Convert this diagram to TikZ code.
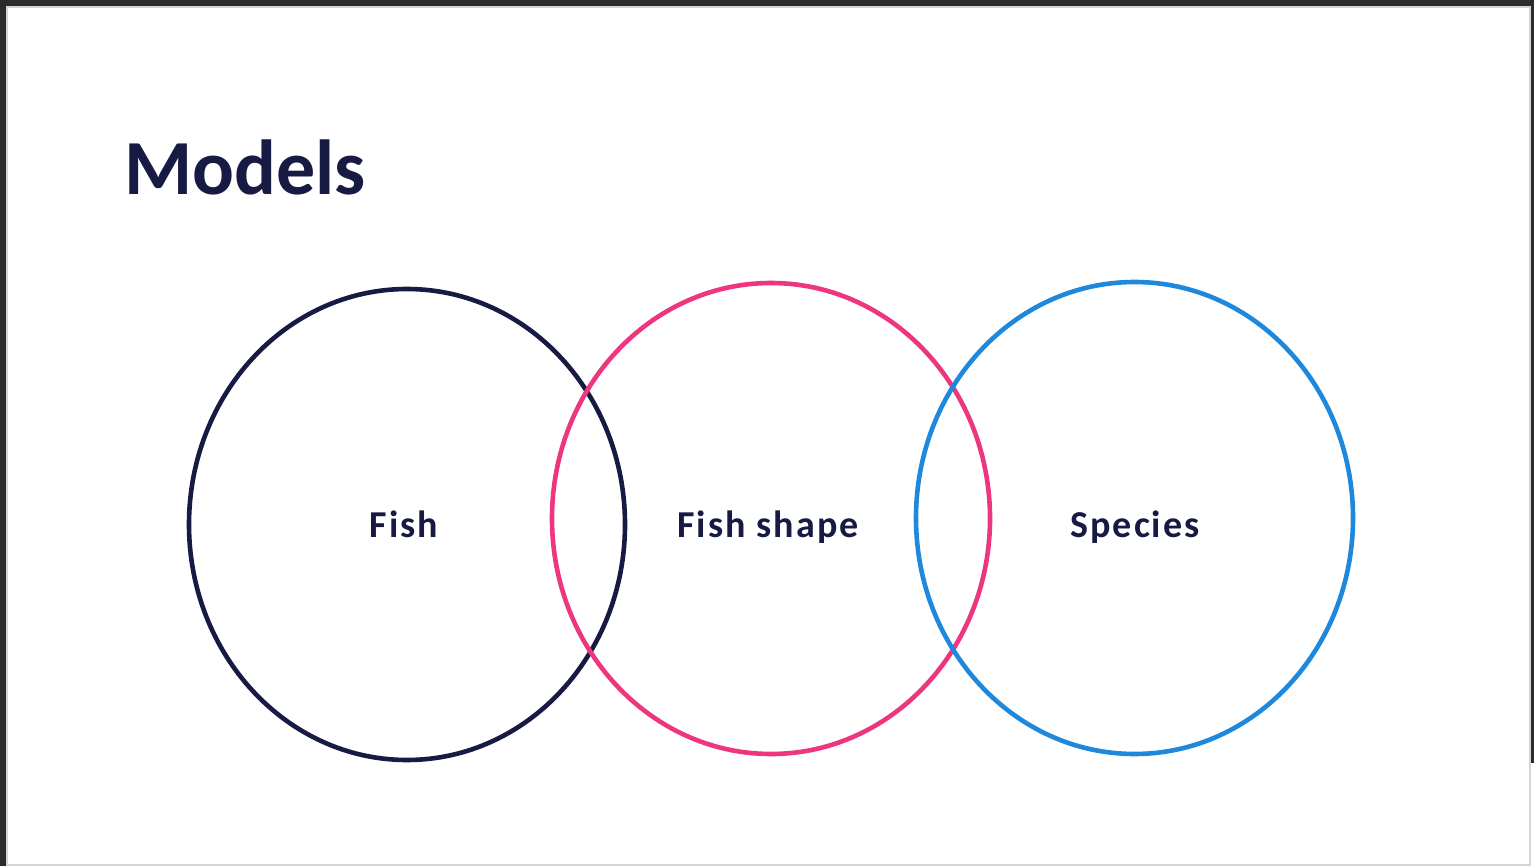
\documentclass[tikz,border=0pt]{standalone}
\usepackage{fontspec}
\setmainfont{Carlito}
\newfontfamily\spacedfont[LetterSpace=5.5]{Carlito}
\usetikzlibrary{shapes.geometric}
\definecolor{frame}{HTML}{2B2B2B}
\definecolor{edge}{HTML}{D4D4D4}
\definecolor{navy}{HTML}{171A42}
\definecolor{rose}{HTML}{EE3680}
\definecolor{sky}{HTML}{1E88DD}
\tikzset{
  ring/.style={ellipse, draw, line width=4.6pt, inner sep=0pt, minimum width=#1},
  label/.style={text=navy, font=\spacedfont\bfseries\fontsize{38}{44}\selectfont, anchor=base, inner sep=0pt},
}
\begin{document}
\begin{tikzpicture}[x=1pt,y=-1pt]
  % window frame and slide area
  \fill[frame] (0,0) rectangle (1534,866);
  \fill[white] (1529,763) rectangle (1534,866);
  \fill[edge] (6,6) rectangle (1531,866);
  \fill[white] (8,8) rectangle (1529,864);
  \useasboundingbox (0,0) rectangle (1534,866);

  % title
  \node[text=navy, font=\bfseries\fontsize{78}{90}\selectfont, anchor=base west, inner sep=0pt]
    (title) at (124,195) {Models};

  % three overlapping ellipses
  \node[ring=436pt, minimum height=471pt, draw=navy] (fish) at (407,524.5) {};
  \node[ring=438pt, minimum height=471pt, draw=rose] (shape) at (771,518.5) {};
  \node[ring=437pt, minimum height=472pt, draw=sky] (species) at (1134.5,518) {};

  % captions
  \node[label] (tfish) at (404,537) {Fish};
  \node[label] (tshape) at (768,537) {Fish shape};
  \node[label] (tspecies) at (1135,537) {Species};
\end{tikzpicture}
\end{document}
